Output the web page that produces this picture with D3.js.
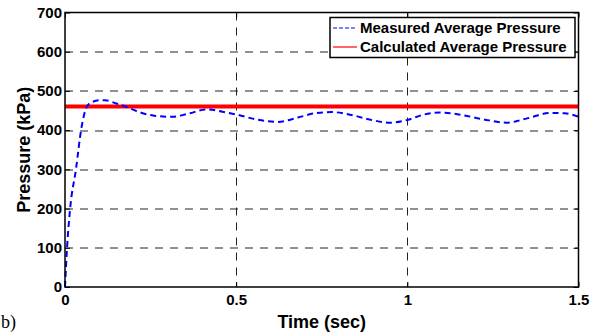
<!DOCTYPE html>
<html lang="en">
  <head>
    <meta charset="UTF-8" />
    <title>Pressure vs Time</title>
    <script src="https://d3js.org/d3.v7.min.js"></script>
    <style>
      body { margin: 0; background: #fff; }
    </style>
  </head>
  <body>
    <div id="plotContainer"></div>
    <script>
      // measured average pressure (kPa)
      const timeSec = [0, 0.006, 0.015, 0.032, 0.047, 0.056, 0.065, 0.08, 0.1, 0.117, 0.15, 0.18,
        0.22, 0.26, 0.316, 0.36, 0.415, 0.46, 0.5, 0.56, 0.62, 0.68, 0.73, 0.78, 0.84, 0.9,
        0.95, 1.0, 1.05, 1.096, 1.15, 1.22, 1.29, 1.35, 1.418, 1.46, 1.5];
      const measured = [0, 100, 200, 300, 400, 440, 462, 472, 476, 476, 468, 459,
        445, 437, 434, 442, 453, 447, 440, 427, 421, 432, 443, 446, 438, 425,
        419, 426, 440, 445, 440, 428, 419, 430, 444, 443, 434];
      const calcTime = [0, 1.5];
      const calculated = [460, 460];
      const xTicks = [0, 0.5, 1, 1.5];
      const yTicks = [0, 100, 200, 300, 400, 500, 600, 700];
      const legendLabels = ["Measured Average Pressure", "Calculated Average Pressure"];

      const FONT = "'Liberation Sans', Arial, Helvetica, sans-serif";
      const W = 595, H = 332;
      const margins = { top: 12.5, right: 16.5, bottom: 45, left: 65 };
      const width = W - margins.left - margins.right;
      const height = H - margins.top - margins.bottom;

      const root = d3.select("#plotContainer").append("svg")
        .attr("width", W).attr("height", H);
      const svg = root.append("g")
        .attr("transform", `translate(${margins.left},${margins.top})`);

      const x = d3.scaleLinear().domain([0, 1.5]).range([0, width]);
      const y = d3.scaleLinear().domain([0, 700]).range([height, 0]);

      // grid
      svg.append("g").selectAll("line")
        .data(yTicks.filter((d) => d > 0 && d < 700))
        .enter().append("line")
        .attr("x1", 0).attr("x2", width)
        .attr("y1", (d) => Math.round(y(d)) + 0.5).attr("y2", (d) => Math.round(y(d)) + 0.5)
        .attr("stroke", "#222").attr("stroke-dasharray", "8,7");
      svg.append("g").selectAll("line")
        .data(xTicks.filter((d) => d > 0 && d < 1.5))
        .enter().append("line")
        .attr("y1", 0).attr("y2", height)
        .attr("x1", (d) => Math.round(x(d)) + 0.5).attr("x2", (d) => Math.round(x(d)) + 0.5)
        .attr("stroke", "#222").attr("stroke-dasharray", "8,7");

      // axes (ticks inside, on all four sides)
      const styleAxis = (g) => {
        g.select(".domain").remove();
        g.selectAll(".tick line").attr("stroke", "#000");
        g.selectAll("text")
          .style("font-family", FONT).style("font-weight", "700")
          .style("font-size", "15px").attr("fill", "#000");
      };
      svg.append("g").attr("transform", `translate(0,${height})`)
        .call(d3.axisBottom(x).tickValues(xTicks).tickFormat(d3.format("")).tickSize(-5).tickPadding(7))
        .call(styleAxis);
      svg.append("g")
        .call(d3.axisLeft(y).tickValues(yTicks).tickSize(-5).tickPadding(3))
        .call(styleAxis);
      svg.append("g")
        .call(d3.axisTop(x).tickValues(xTicks).tickFormat("").tickSize(-5))
        .call(styleAxis);
      svg.append("g").attr("transform", `translate(${width},0)`)
        .call(d3.axisRight(y).tickValues(yTicks).tickFormat("").tickSize(-5))
        .call(styleAxis);

      // series
      const measuredData = timeSec.map((t, i) => ({ t: t, p: measured[i] }));
      const calcData = calcTime.map((t, i) => ({ t: t, p: calculated[i] }));
      const line = d3.line().x((d) => x(d.t)).y((d) => y(d.p));

      svg.append("path").datum(calcData)
        .attr("fill", "none").attr("stroke", "#ff0000").attr("stroke-width", 4)
        .attr("d", line);
      svg.append("path").datum(measuredData)
        .attr("fill", "none").attr("stroke", "#0000ff").attr("stroke-width", 2)
        .attr("stroke-dasharray", "6,4")
        .attr("d", line.curve(d3.curveMonotoneX));

      // frame
      svg.append("rect").attr("width", width).attr("height", height)
        .attr("fill", "none").attr("stroke", "#000").attr("stroke-width", 1.5);

      // legend
      const lg = root.append("g").attr("transform", "translate(330,17.5)");
      lg.append("rect").attr("width", 245).attr("height", 40)
        .attr("fill", "#fff").attr("stroke", "#000").attr("stroke-width", 1.5);
      const legendColors = ["#0000ff", "#ff0000"];
      const legendDash = ["4,2", null];
      legendLabels.forEach((lab, i) => {
        const ly = 10.5 + i * 19;
        lg.append("line").attr("x1", 3).attr("x2", 27).attr("y1", ly).attr("y2", ly)
          .attr("stroke", legendColors[i]).attr("stroke-width", 1.2)
          .attr("stroke-dasharray", legendDash[i]);
        lg.append("text").attr("x", 30).attr("y", ly).attr("dy", "0.36em")
          .style("font-family", FONT).style("font-weight", "700")
          .style("font-size", "15px").text(lab);
      });

      // axis labels
      root.append("text")
        .attr("x", margins.left + width / 2).attr("y", 328)
        .attr("text-anchor", "middle")
        .style("font-family", FONT).style("font-weight", "700").style("font-size", "18px")
        .text("Time (sec)");
      root.append("text")
        .attr("transform", `translate(24,${margins.top + height / 2}) rotate(-90)`)
        .attr("text-anchor", "middle").attr("dy", "0.36em")
        .style("font-family", FONT).style("font-weight", "700").style("font-size", "18px")
        .text("Pressure (kPa)");

      // panel letter at the bottom-left corner
      root.append("text")
        .attr("x", 1).attr("y", 328).attr("text-anchor", "start")
        .style("font-family", "'Liberation Serif', 'Times New Roman', serif")
        .style("font-size", "18px")
        .text("b)");
    </script>
  </body>
</html>
